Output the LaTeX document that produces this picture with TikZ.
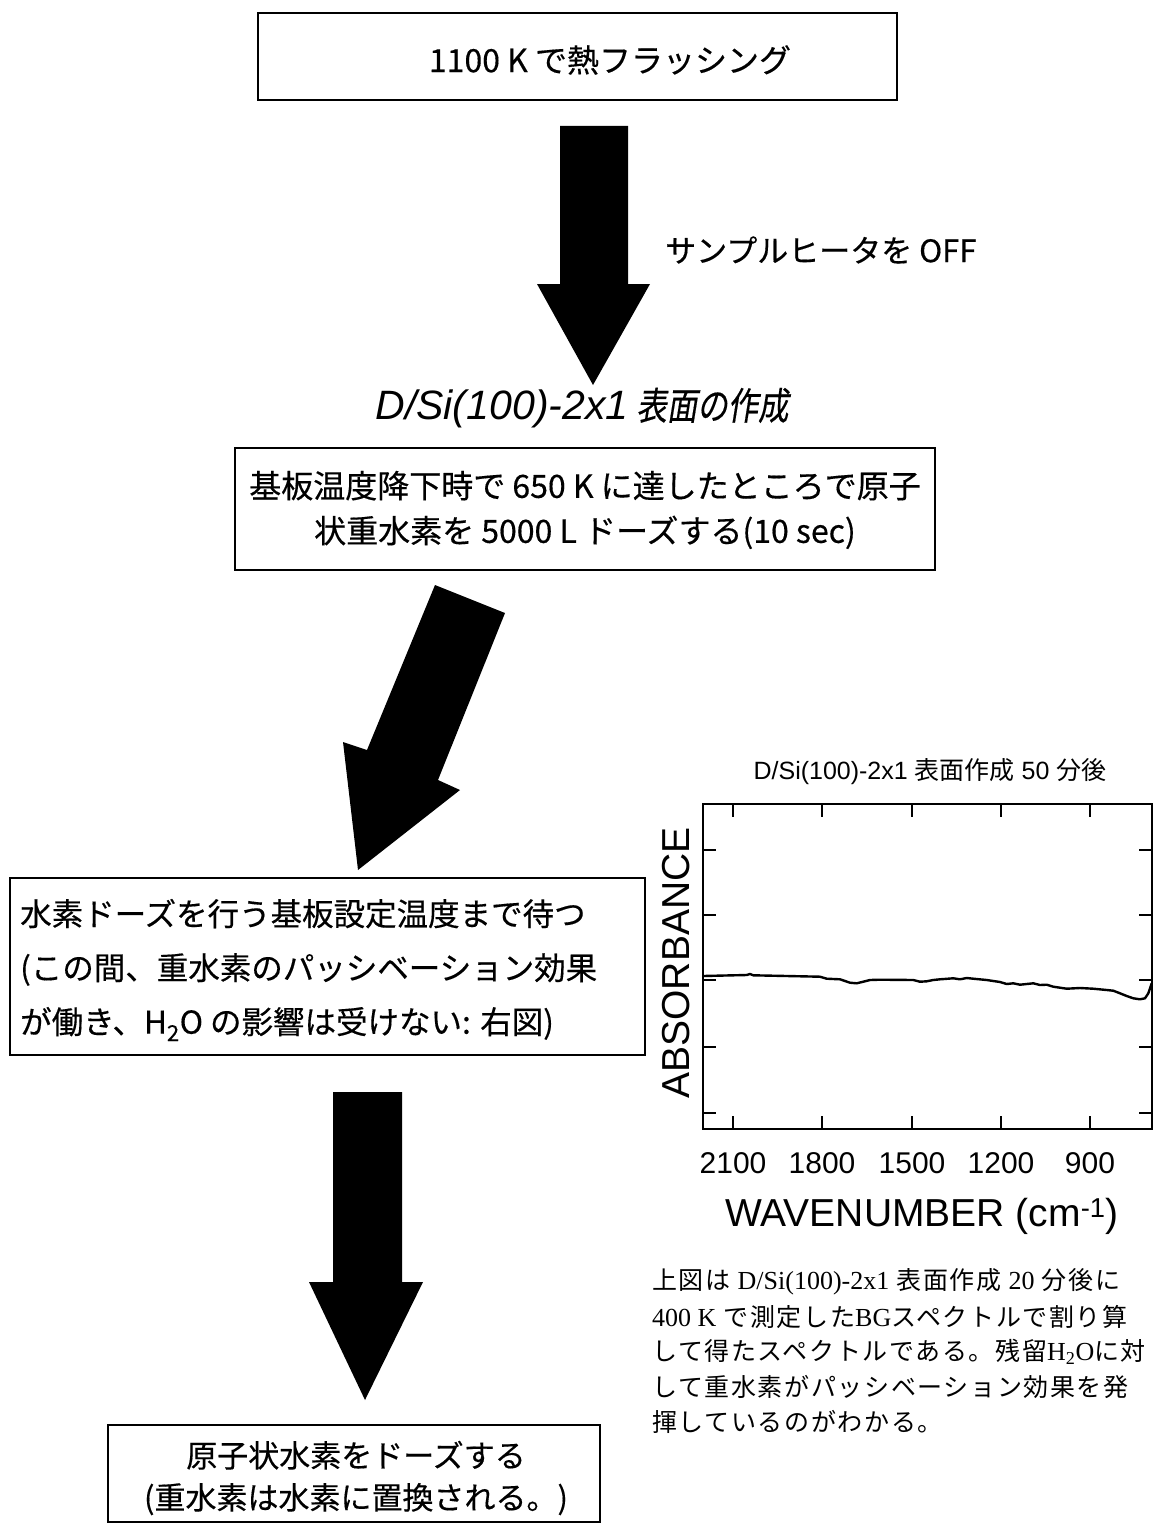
\documentclass[tikz,border=0pt]{standalone}
\usepackage{graphicx}
\usepackage{fontspec}
\setmainfont{Liberation Sans}
\newfontfamily\jp{Noto Sans CJK JP}[FakeBold=0.4]
\newfontfamily\jpit{Noto Sans CJK JP}[FakeSlant=0.2,FakeBold=0.4]
\newfontfamily\jpcap{Noto Sans CJK JP}[LetterSpace=6.5]
\newfontfamily\jpsm{Noto Sans CJK JP}
\newfontfamily\tms{Liberation Serif}
\newcommand\fsz[2]{\fontsize{#1}{#2}\selectfont}
\begin{document}
\begin{tikzpicture}[x=1pt,y=-1pt,
  flowbox/.style={draw, line width=2.5pt, inner sep=0pt},
  jtext/.style={inner sep=0pt, align=center},
  bigarrow/.style={fill=black},
  plotframe/.style={line width=2.5pt},
  tickln/.style={line width=2.2pt},
  captline/.style={anchor=west, inner sep=0pt, font=\jpcap\fsz{25}{30}},
  ticklab/.style={inner sep=0pt, font=\fsz{30}{30}}]
\useasboundingbox[fill=white] (0,0) rectangle (1154,1525);

% ---- box 1
\node[flowbox, minimum width=639pt, minimum height=87pt] (b1) at (577.5,56.5) {};
\node[jtext, font=\jp\fsz{32}{40}] (t1) at (610,60) {1100 K で熱フラッシング};

% ---- arrow 1
\coordinate (a1) at (593,385);
\fill[bigarrow] (560,126) -- (628,126) -- (628,284) -- (650,284) -- (a1) -- (537,284) -- (560,284) -- cycle;
\node[anchor=west, inner sep=0pt, font=\jp\fsz{31}{36}] (off) at (665,250) {サンプルヒータを OFF};

% ---- title
\node[inner sep=0pt] (title) at (582,408) {{\itshape\fsz{41}{44}D/Si(100)-2x1}\hspace{8pt}\scalebox{0.8}[1]{\jpit\fsz{38}{44}表面の作成}};

% ---- box 2
\node[flowbox, minimum width=700pt, minimum height=122pt] (b2) at (585,509) {};
\node[jtext, font=\jp\fsz{32}{45}] (t2) at (585,510) {基板温度降下時で 650 K に達したところで原子\\状重水素を 5000 L ドーズする(10 sec)};

% ---- arrow 2 (diagonal)
\coordinate (a2) at (358,870);
\fill[bigarrow] (435,585) -- (505,613) -- (438,780) -- (460,790) -- (a2) -- (343,742) -- (367,750) -- cycle;

% ---- box 3
\node[flowbox, minimum width=635pt, minimum height=177pt] (b3) at (327.5,966.5) {};
\node[anchor=west, inner sep=0pt, align=left, font=\jp\fsz{31.5}{54}] (t3) at (20,970) {水素ドーズを行う基板設定温度まで待つ\\(この間、重水素のパッシベーション効果\\が働き、H\textsubscript{2}O の影響は受けない: 右図)};

% ---- arrow 3
\coordinate (a3) at (365,1400);
\fill[bigarrow] (333,1092) -- (402,1092) -- (402,1282) -- (423,1282) -- (a3) -- (309,1282) -- (333,1282) -- cycle;

% ---- box 4
\node[flowbox, minimum width=492pt, minimum height=97pt] (b4) at (354,1473.5) {};
\node[jtext, font=\jp\fsz{31}{42}] (t4) at (356,1478) {原子状水素をドーズする\\(重水素は水素に置換される。)};

% ---- plot
\node[inner sep=0pt, font=\fsz{25}{30}] (ptitle) at (930,772) {D/Si(100)-2x1 {\jpsm 表面作成} 50 {\jpsm 分後}};
\draw[plotframe] (703,804) rectangle (1152,1129);
\foreach \x/\l in {733/2100, 822/1800, 912/1500, 1001/1200, 1090/900} {
  \draw[tickln] (\x,1129) -- ++(0,-13);
  \draw[tickln] (\x,804) -- ++(0,13);
  \node[ticklab] at (\x,1163) {\l};
}
\foreach \y in {850,915,980,1047,1113} {
  \draw[tickln] (703,\y) -- ++(13,0);
  \draw[tickln] (1152,\y) -- ++(-13,0);
}
\draw[line width=2.4pt, line join=round] plot coordinates {
 (703.3,976) (746.7,975) (750,974) (753.3,975.3) (820,976.7) (826.7,978.7)
 (840,979.3) (850,982.7) (856.7,983.3) (863.3,981.7) (870,980) (880,979.7)
 (913.3,980) (920,981.7) (926.7,981.3) (933.3,980) (940,979.3) (953.3,978.3)
 (960,979.3) (966.7,978) (973.3,978.7) (986.7,980) (993.3,981) (1000,982)
 (1006.7,984) (1013.3,983.3) (1020,984.7) (1026.7,984) (1033.3,983.3) (1040,985)
 (1046.7,984.7) (1053.3,986.7) (1066.7,988.7) (1080,988) (1093.3,988.7)
 (1106.7,990) (1113.3,990.7) (1120,993.3) (1126.7,996) (1133.3,998.3)
 (1140,999.3) (1145,998.3) (1148.3,993.3) (1151.7,983.3)};
\node[inner sep=0pt, font=\fsz{39}{39}] (xlab) at (922,1216) {WAVENUMBER (cm\textsuperscript{-1})};
\node[inner sep=0pt, rotate=90, font=\fsz{39}{39}] (ylab) at (676,963) {ABSORBANCE};

% ---- caption
\node[captline] (c1) at (652,1282) {上図は {\tms\fsz{26}{30}D/Si(100)-2x1} 表面作成 {\tms\fsz{26}{30}20} 分後に};
\node[captline] (c2) at (652,1317) {{\tms\fsz{26}{30}400 K} で測定した{\tms\fsz{26}{30}BG}スペクトルで割り算};
\node[captline] (c3) at (652,1352) {して得たスペクトルである。残留{\tms\fsz{26}{30}H\textsubscript{2}O}に対};
\node[captline] (c4) at (652,1387) {して重水素がパッシベーション効果を発};
\node[captline] (c5) at (652,1422) {揮しているのがわかる。};
\end{tikzpicture}
\end{document}
